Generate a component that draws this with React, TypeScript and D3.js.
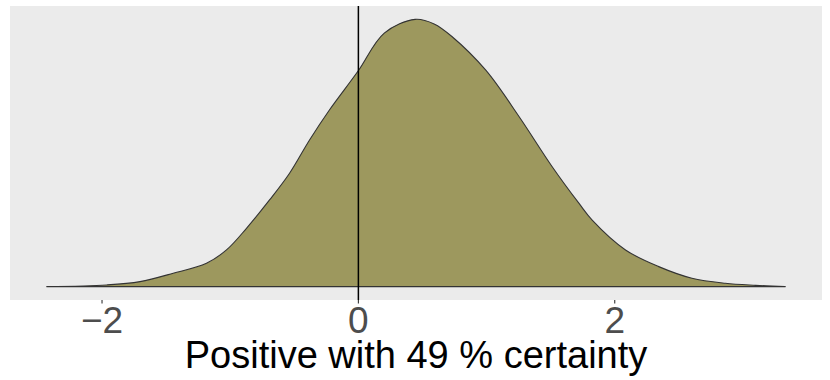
import React from "react";
import * as d3 from "d3";

const xs = [-2.43, -1.963, -1.704, -1.445, -1.185, -1.029, -0.873, -0.693, -0.537, -0.381, -0.226, -0.005, 0.202, 0.443, 0.591, 0.734, 0.994, 1.253, 1.512, 1.72, 1.824, 2.084, 2.343, 2.602, 2.862, 3.1, 3.329];
const dens = [0.0, 0.0026, 0.0077, 0.0205, 0.0359, 0.0563, 0.0895, 0.133, 0.174, 0.225, 0.271, 0.33, 0.389, 0.41, 0.403, 0.383, 0.332, 0.261, 0.184, 0.128, 0.102, 0.0563, 0.0307, 0.0129, 0.0052, 0.002, 0.0];
const tickValues = [-2, 0, 2];
const title = "Positive with 49 % certainty";

export default function App() {
  const W = 830, H = 380;
  const left = 10, right = 822, top = 6, bottom = 300;
  const xmin = d3.min(xs)!, xmax = d3.max(xs)!;
  const xr = xmax - xmin;
  const x = d3.scaleLinear().domain([xmin - 0.05 * xr, xmax + 0.05 * xr]).range([left, right]);
  const ymax = d3.max(dens)!;
  const y = d3.scaleLinear().domain([-0.05 * ymax, ymax * 1.05]).range([bottom, top]);
  const pts = xs.map((v, i) => [v, dens[i]] as [number, number]);
  const line = d3.line<[number, number]>().x(d => x(d[0])).y(d => y(d[1])).curve(d3.curveCatmullRom.alpha(0.5));
  const curve = line(pts)!;
  const path = curve + `L${x(xmax)},${y(0)}L${x(xmin)},${y(0)}Z`;
  return (
    <svg width={W} height={H} style={{ position: "absolute", left: 0, top: 0 }} fontFamily="Liberation Sans, Arial, sans-serif">
      <rect x={0} y={0} width={W} height={H} fill="#ffffff" />
      <rect x={left} y={top} width={right - left} height={bottom - top} fill="#ebebeb" />
      <path d={path} fill="#9d985e" stroke="#333333" strokeWidth={1.1} />
      <line x1={x(0)} x2={x(0)} y1={top} y2={bottom} stroke="#000000" strokeWidth={1.5} />
      {tickValues.map(t => (
        <g key={t}>
          <line x1={x(t)} x2={x(t)} y1={bottom} y2={bottom + 3.5} stroke="#333333" strokeWidth={1.1} />
          <text x={x(t)} y={333} textAnchor="middle" fontSize={37} fill="#4d4d4d">{t < 0 ? "\u2212" + Math.abs(t) : String(t)}</text>
        </g>
      ))}
      <text x={(left + right) / 2} y={368} textAnchor="middle" fontSize={38} fill="#000000">{title}</text>
    </svg>
  );
}
